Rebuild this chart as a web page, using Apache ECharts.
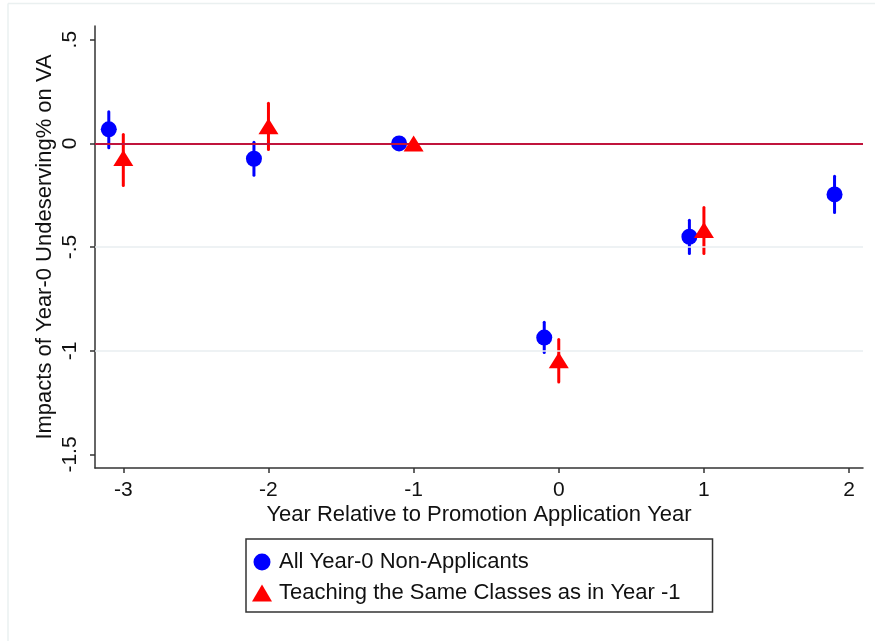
<!DOCTYPE html>
<html>
<head>
<meta charset="utf-8">
<script src="https://cdn.jsdelivr.net/npm/echarts@6/dist/echarts.min.js"></script>
<style>
  html, body { margin: 0; padding: 0; background: #fff; }
  #chart { width: 875px; height: 641px; }
</style>
</head>
<body>
<div id="chart"></div>
<script>
// event-study estimates
const xTicks = [-3, -2, -1, 0, 1, 2]
const yTicks = [-1.5, -1, -0.5, 0, 0.5]

// all year-0 non-applicants (plotted shifted -0.1)
const allX = [-3.1, -2.1, -1.1, -0.1, 0.9, 1.9]
const allY = [0.068, -0.074, 0, -0.936, -0.450, -0.246]
const allLo = [-0.021, -0.153, 0, -1.008, -0.531, -0.333]
const allHi = [0.152, 0.005, 0, -0.862, -0.370, -0.158]

// teaching same classes as in year -1
const sameX = [-3, -2, -1, 0, 1]
const sameY = [-0.071, 0.083, 0, -1.045, -0.418]
const sameLo = [-0.203, -0.029, 0, -1.150, -0.531]
const sameHi = [0.043, 0.193, 0, -0.946, -0.309]

const names = ['All Year-0 Non-Applicants', 'Teaching the Same Classes as in Year -1']
const font = 'Liberation Sans, Arial, Helvetica, sans-serif'

function zip(xs, ys) {
  return xs.map((x, i) => [x, ys[i]])
}

function spikes(xs, lo, hi) {
  return xs.map((x, i) => [x, lo[i], hi[i]])
}

// vertical confidence spike
function spikeRender(color) {
  return function (params, api) {
    const p1 = api.coord([api.value(0), api.value(1)])
    const p2 = api.coord([api.value(0), api.value(2)])
    return {
      type: 'line',
      shape: { x1: p1[0], y1: p1[1], x2: p2[0], y2: p2[1] },
      style: { stroke: color, lineWidth: 3, lineCap: 'round' }
    }
  }
}

const chart = echarts.init(document.getElementById('chart'))
chart.setOption({
  animation: false,
  backgroundColor: '#fff',
  textStyle: { fontFamily: font },
  graphic: [
    { type: 'line', shape: { x1: 8, y1: 3.5, x2: 875, y2: 3.5 }, style: { stroke: '#eaf0f0', lineWidth: 1.5 } },
    { type: 'line', shape: { x1: 8, y1: 3.5, x2: 8, y2: 641 }, style: { stroke: '#eaf0f0', lineWidth: 1.5 } }
  ],
  grid: { left: 95, top: 26, right: 12, bottom: 173 },
  legend: {
    left: 246,
    top: 539,
    orient: 'vertical',
    data: [
      { name: names[0], icon: 'circle' },
      { name: names[1], icon: 'triangle' }
    ],
    itemWidth: 20,
    itemHeight: 17,
    itemGap: 9,
    padding: [12, 32, 8, 6],
    borderColor: '#333',
    borderWidth: 1.5,
    textStyle: { fontSize: 22, color: '#111', fontFamily: font, padding: [0, 0, 0, 2] }
  },
  xAxis: {
    type: 'value',
    min: -3.195,
    max: 2.096,
    name: 'Year Relative to Promotion Application Year',
    nameLocation: 'middle',
    nameGap: 36,
    nameMoveOverlap: false,
    nameTextStyle: { fontSize: 22, color: '#111', verticalAlign: 'top' },
    axisLine: { onZero: false, lineStyle: { color: '#333', width: 1.5 } },
    axisTick: { customValues: xTicks, length: 5, lineStyle: { color: '#333', width: 1.5 } },
    axisLabel: { customValues: xTicks, fontSize: 21, color: '#111', margin: 12 },
    splitLine: { show: false }
  },
  yAxis: {
    type: 'value',
    min: -1.565,
    max: 0.566,
    name: 'Impacts of Year-0 Undeserving% on VA',
    nameLocation: 'middle',
    nameGap: 39,
    nameMoveOverlap: false,
    nameTextStyle: { fontSize: 22, color: '#111' },
    axisLine: { show: true, onZero: false, lineStyle: { color: '#333', width: 1.5 } },
    axisTick: { show: true, customValues: yTicks, length: 5, lineStyle: { color: '#333', width: 1.5 } },
    axisLabel: {
      customValues: yTicks,
      rotate: 90,
      fontSize: 21,
      color: '#111',
      margin: 14,
      formatter: v => (v === 0 ? '0' : String(v).replace('0.', '.'))
    },
    splitLine: { show: false }
  },
  series: [
    {
      type: 'line',
      data: [],
      silent: true,
      markLine: {
        symbol: 'none',
        silent: true,
        label: { show: false },
        data: [
          { yAxis: -0.5, lineStyle: { color: '#e8eef0', width: 1.5, type: 'solid' } },
          { yAxis: -1, lineStyle: { color: '#e8eef0', width: 1.5, type: 'solid' } },
          { yAxis: 0, lineStyle: { color: '#c0143c', width: 2, type: 'solid' } }
        ]
      }
    },
    {
      type: 'custom',
      renderItem: spikeRender('#0000ff'),
      data: spikes(allX, allLo, allHi),
      encode: { x: 0, y: [1, 2] },
      z: 3
    },
    {
      type: 'custom',
      renderItem: spikeRender('#ff0000'),
      data: spikes(sameX, sameLo, sameHi),
      encode: { x: 0, y: [1, 2] },
      z: 3
    },
    {
      name: names[0],
      type: 'scatter',
      symbol: 'circle',
      symbolSize: 16,
      itemStyle: { color: '#0000ff', opacity: 1 },
      data: zip(allX, allY),
      z: 4
    },
    {
      name: names[1],
      type: 'scatter',
      symbol: 'triangle',
      symbolSize: [20, 16],
      itemStyle: { color: '#ff0000', opacity: 1 },
      data: zip(sameX, sameY),
      z: 5
    }
  ]
})
</script>
</body>
</html>
